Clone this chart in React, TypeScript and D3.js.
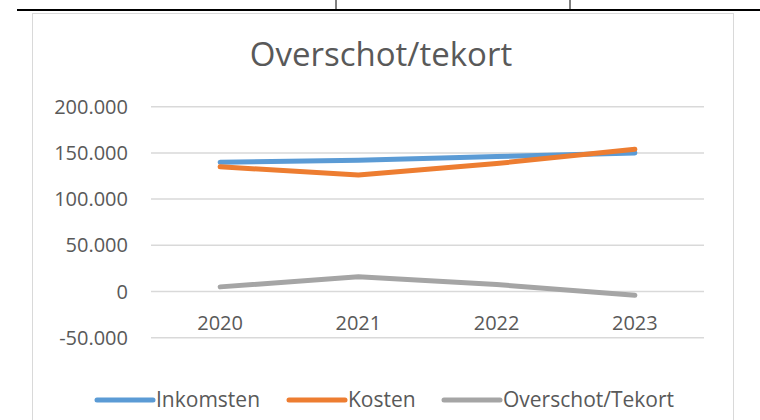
import React from 'react'
import * as d3 from 'd3'

const years = ['2020', '2021', '2022', '2023']
const inkomsten = [140000, 142000, 146000, 150000]
const kosten = [135000, 126000, 138500, 154000]
const overschot = [5000, 16000, 7500, -4000]
const yTicks = [-50000, 0, 50000, 100000, 150000, 200000]

const series = [
  { name: 'Inkomsten', values: inkomsten, color: '#5B9BD5' },
  { name: 'Kosten', values: kosten, color: '#ED7D31' },
  { name: 'Overschot/Tekort', values: overschot, color: '#A5A5A5' },
]

const font = '"Open Sans", sans-serif'
const txt = '#595959'

// dutch style thousands, plain hyphen for negatives
const fmt = (v: number) =>
  v === 0 ? '0' : d3.format(',')(v).replace(/,/g, '.').replace('\u2212', '-')

export default function App() {
  const x = d3.scalePoint<string>().domain(years).range([151, 704]).padding(0.5)
  const y = d3.scaleLinear().domain([-50000, 200000]).range([337.7, 106.7])
  const line = d3
    .line<number>()
    .x((_, i) => x(years[i]) as number)
    .y((d) => y(d))

  const legendX = [97, 289, 444]

  return (
    <svg
      width={760}
      height={420}
      style={{ position: 'absolute', left: 0, top: 0, background: '#fff' }}
    >
      {/* table lines from the document above */}
      <line x1={17} x2={760} y1={10} y2={10} stroke="#000" strokeWidth={2} />
      <line x1={336} x2={336} y1={0} y2={10} stroke="#000" strokeWidth={1} />
      <line x1={570} x2={570} y1={0} y2={10} stroke="#000" strokeWidth={1} />

      {/* chart frame */}
      <rect x={32.5} y={13.5} width={701} height={420} fill="#fff" stroke="#D9D9D9" strokeWidth={1} />

      <text x={381} y={66} textAnchor="middle" fontFamily={font} fontSize={33} fill={txt}>
        Overschot/tekort
      </text>

      {yTicks.map((t) => (
        <g key={t}>
          <line x1={151} x2={704} y1={y(t)} y2={y(t)} stroke="#D9D9D9" strokeWidth={1.5} />
          <text x={128} y={y(t) + 7} textAnchor="end" fontFamily={font} fontSize={20} fill={txt}>
            {fmt(t)}
          </text>
        </g>
      ))}

      {years.map((yr) => (
        <text key={yr} x={x(yr)} y={330} textAnchor="middle" fontFamily={font} fontSize={20} fill={txt}>
          {yr}
        </text>
      ))}

      {series.map((s) => (
        <path
          key={s.name}
          d={line(s.values) || ''}
          fill="none"
          stroke={s.color}
          strokeWidth={5}
          strokeLinecap="round"
          strokeLinejoin="round"
        />
      ))}

      {series.map((s, i) => (
        <g key={s.name}>
          <line
            x1={legendX[i]}
            x2={legendX[i] + 56}
            y1={400}
            y2={400}
            stroke={s.color}
            strokeWidth={5}
            strokeLinecap="round"
          />
          <text x={legendX[i] + 59} y={407} fontFamily={font} fontSize={21} fill={txt}>
            {s.name}
          </text>
        </g>
      ))}
    </svg>
  )
}
